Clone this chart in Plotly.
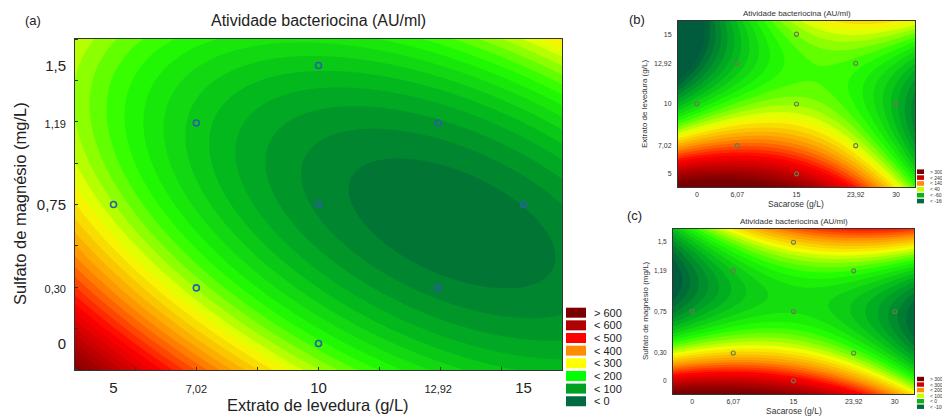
import numpy as np
import plotly.graph_objects as go

# ---------------- data ----------------
ext_levels = [5, 7.02, 10, 12.92, 15]          # Extrato de levedura (g/L)
sulf_levels = [0, 0.30, 0.75, 1.19, 1.5]       # Sulfato de magnésio (mg/L)
sac_levels = [0, 6.07, 15, 23.92, 30]          # Sacarose (g/L)

# responses read at tick intersections: rows = y levels (ascending), cols = x levels (ascending)
resp_a = [  # x = extrato, y = sulfato
    [520, 270, 150, 80, 50],
    [320, 190, 70, 0, -10],
    [220, 140, 10, -40, -30],
    [160, 100, 40, 20, 60],
    [150, 110, 80, 100, 190],
]
resp_b = [  # x = sacarose, y = extrato
    [280, 304, 248, 120, 24],
    [136, 160, 96, 40, -40],
    [-56, 8, 24, -24, -190],
    [-190, -104, -40, -24, -130],
    [-230, -140, -16, 50, 60],
]
resp_c = [  # x = sacarose, y = sulfato
    [256, 270, 221, 130, 60],
    [60, 60, 46, 4, -59],
    [-94, -38, -3, -45, -129],
    [-129, -66, 4, 11, -45],
    [-45, 4, 60, 120, 110],
]

# experimental design points (central composite design)
pts_a_x = [5, 7.02, 7.02, 10, 10, 10, 12.92, 12.92, 15]
pts_a_y = [0.75, 0.30, 1.19, 0, 0.75, 1.5, 0.30, 1.19, 0.75]
pts_b_x = [0, 6.07, 6.07, 15, 15, 15, 23.92, 23.92, 30]
pts_b_y = [10, 7.02, 12.92, 5, 10, 15, 7.02, 12.92, 10]
pts_c_x = [0, 6.07, 6.07, 15, 15, 15, 23.92, 23.92, 30]
pts_c_y = [0.75, 0.30, 1.19, 0, 0.75, 1.5, 0.30, 1.19, 0.75]

legend_a = ["> 600", "< 600", "< 500", "< 400", "< 300", "< 200", "< 100", "< 0"]
legend_b = ["> 300", "< 240", "< 140", "< 40", "< -60", "< -160"]
legend_c = ["> 300", "< 300", "< 200", "< 100", "< 0", "< -100"]

title_txt = "Atividade bacteriocina (AU/ml)"

# ---------------- styling ----------------
OFF = 8                      # default page margin of the html body
W, H = 950 - OFF, 419 - OFF
FONT = "Liberation Sans, Arial, sans-serif"
ramp = ["#005c3c", "#00b020", "#22ff00", "#f5ff00", "#ff8c00", "#ff0000", "#b40000", "#780000"]
cscale = [[i / (len(ramp) - 1), c] for i, c in enumerate(ramp)]
leg8_colors = ["#7a0000", "#b00000", "#ff0000", "#ff8c00", "#ffff00", "#00ff00", "#00a020", "#006a40"]
leg6_colors = ["#7a0000", "#d00000", "#ff8c00", "#c8ff00", "#10b010", "#006a40"]


def px(x):
    return (x - OFF) / W


def py(y):
    return 1 - (y - OFF) / H


def surface(xl, yl, z, xr, yr, n=220):
    X, Y = np.meshgrid(np.array(xl, float), np.array(yl, float))
    x, y, zz = X.ravel(), Y.ravel(), np.array(z, float).ravel()
    A = np.column_stack([np.ones_like(x), x, y, x * x, y * y, x * y])
    c, *_ = np.linalg.lstsq(A, zz, rcond=None)
    gx = np.linspace(xr[0], xr[1], n)
    gy = np.linspace(yr[0], yr[1], n)
    GX, GY = np.meshgrid(gx, gy)
    GZ = c[0] + c[1] * GX + c[2] * GY + c[3] * GX ** 2 + c[4] * GY ** 2 + c[5] * GX * GY
    return gx, gy, GZ


r_ext = [4.06, 15.94]
r_sulf = [-0.143, 1.643]
r_sac = [-2.86, 32.86]

fig = go.Figure()

panels = [
    ("x", "y", ext_levels, sulf_levels, resp_a, r_ext, r_sulf, -50, 650, 20, pts_a_x, pts_a_y),
    ("x2", "y2", sac_levels, ext_levels, resp_b, r_sac, r_ext, -200, 360, 16, pts_b_x, pts_b_y),
    ("x3", "y3", sac_levels, sulf_levels, resp_c, r_sac, r_sulf, -150, 340, 14, pts_c_x, pts_c_y),
]
for xa, ya, xl, yl, z, xr, yr, zmin, zmax, step, ptx, pty in panels:
    gx, gy, gz = surface(xl, yl, z, xr, yr)
    fig.add_trace(go.Contour(
        x=gx, y=gy, z=gz, xaxis=xa, yaxis=ya,
        colorscale=cscale, zmin=zmin, zmax=zmax, showscale=False,
        contours=dict(coloring="fill", start=zmin - 400, end=zmax + 600, size=step),
        line=dict(width=0), hoverinfo="skip",
    ))
    fig.add_trace(go.Scatter(
        x=ptx, y=pty, xaxis=xa, yaxis=ya, mode="markers", showlegend=False,
        marker=dict(symbol="circle-open", size=6 if xa == "x" else 4,
                    color="#2a5fa5" if xa == "x" else "#6a7a50",
                    line=dict(width=1.6 if xa == "x" else 1.1)),
    ))


def small(t, s):
    return f'<span style="font-size:{s}px">{t}</span>'


axis_common = dict(showline=True, linecolor="#333", linewidth=1, mirror=True,
                   showgrid=False, zeroline=False, ticks="")

big, sm = 15, 11
fig.update_layout(
    width=W, height=H, margin=dict(l=0, r=0, t=0, b=0),
    paper_bgcolor="white", plot_bgcolor="white", showlegend=False,
    font=dict(family=FONT, color="#222"),
    xaxis=dict(domain=[px(75), px(562)], range=r_ext, anchor="y",
               tickvals=ext_levels,
               ticktext=["5", small("7,02", sm), "10", small("12,92", sm), "15"],
               tickfont=dict(size=big), ticklabelstandoff=4,
               minor=dict(ticks="inside", ticklen=3, tickcolor="#333", tick0=10, dtick=1.485),
               **axis_common),
    yaxis=dict(domain=[py(370), py(39)], range=r_sulf, anchor="x",
               tickvals=sulf_levels,
               ticktext=["0", small("0,30", sm), "0,75", small("1,19", sm), "1,5"],
               tickfont=dict(size=big), ticklabelstandoff=5,
               minor=dict(ticks="inside", ticklen=3, tickcolor="#333", tick0=0.75, dtick=0.2232),
               **axis_common),
    xaxis2=dict(domain=[px(678), px(915)], range=r_sac, anchor="y2",
                tickvals=sac_levels, ticktext=["0", "6,07", "15", "23,92", "30"],
                tickfont=dict(size=7, color="#333"), ticklabelstandoff=1, **axis_common),
    yaxis2=dict(domain=[py(187), py(21)], range=r_ext, anchor="x2",
                tickvals=ext_levels, ticktext=["5", "7,02", "10", "12,92", "15"],
                tickfont=dict(size=7, color="#333"), ticklabelstandoff=4, **axis_common),
    xaxis3=dict(domain=[px(673), px(914)], range=r_sac, anchor="y3",
                tickvals=sac_levels, ticktext=["0", "6,07", "15", "23,92", "30"],
                tickfont=dict(size=7, color="#333"), ticklabelstandoff=1, **axis_common),
    yaxis3=dict(domain=[py(394), py(229)], range=r_sulf, anchor="x3",
                tickvals=sulf_levels, ticktext=["0", "0,30", "0,75", "1,19", "1,5"],
                tickfont=dict(size=6.5, color="#333"), ticklabelstandoff=4, **axis_common),
)

ann = []
shapes = []


def text(x, y, t, size, color="#222", angle=0, xanchor="center"):
    ann.append(dict(x=px(x), y=py(y), xref="paper", yref="paper", text=t, showarrow=False,
                    font=dict(size=size, color=color, family=FONT), textangle=angle,
                    xanchor=xanchor, yanchor="middle"))


# panel (a)
text(33, 21, "(a)", 13)
text(318, 21, title_txt, 16)
text(318, 405, "Extrato de levedura (g/L)", 16.5)
text(20, 204, "Sulfato de magnésio (mg/L)", 16.5, angle=-90)
for i, lab in enumerate(legend_a):
    cy = 312.7 + i * 12.65
    shapes.append(dict(type="rect", xref="paper", yref="paper",
                       x0=px(566), x1=px(586), y0=py(cy + 5), y1=py(cy - 5),
                       fillcolor=leg8_colors[i], line=dict(width=0)))
    text(592, cy, lab, 11, xanchor="left")

# panel (b)
text(637, 20, "(b)", 13)
text(797, 13.5, title_txt, 8, color="#333")
text(796, 204, "Sacarose (g/L)", 8.5, color="#333")
text(645, 104, "Extrato de levedura (g/L)", 8, color="#333", angle=-90)
for i, lab in enumerate(legend_b):
    cy = 171.7 + i * 5.87
    shapes.append(dict(type="rect", xref="paper", yref="paper",
                       x0=px(917), x1=px(924), y0=py(cy + 2.3), y1=py(cy - 2.3),
                       fillcolor=leg6_colors[i], line=dict(width=0)))
    text(927.5, cy, lab, 5, color="#333", xanchor="left")

# panel (c)
text(634, 215, "(c)", 13)
text(794, 221, title_txt, 8, color="#333")
text(794, 411, "Sacarose (g/L)", 8.5, color="#333")
text(645, 311, "Sulfato de magnésio (mg/L)", 8, color="#333", angle=-90)
for i, lab in enumerate(legend_c):
    cy = 379 + i * 5.55
    shapes.append(dict(type="rect", xref="paper", yref="paper",
                       x0=px(917), x1=px(924), y0=py(cy + 2.2), y1=py(cy - 2.2),
                       fillcolor=leg6_colors[i], line=dict(width=0)))
    text(927.5, cy, lab, 5, color="#333", xanchor="left")

fig.update_layout(annotations=ann, shapes=shapes)
fig.write_html("out.html")
